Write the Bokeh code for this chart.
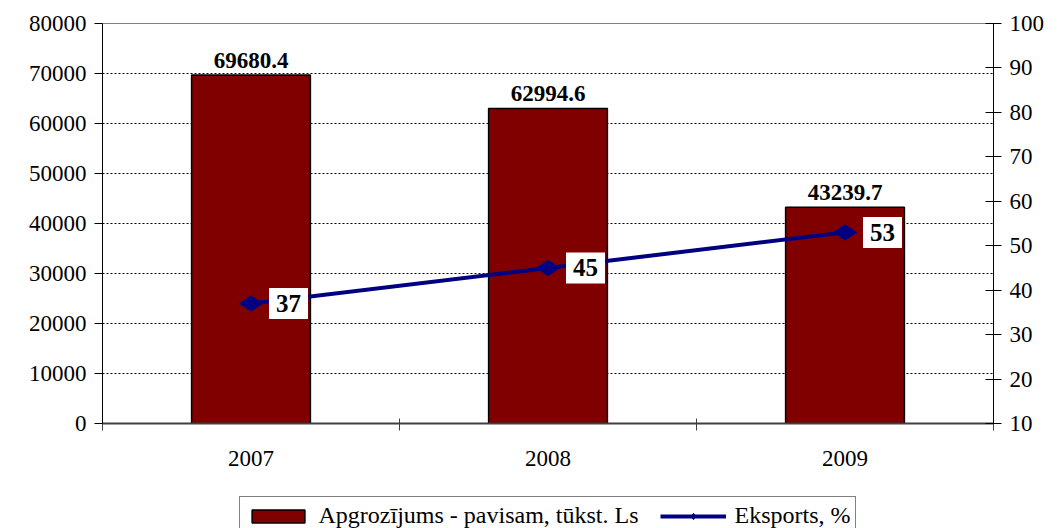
from math import pi
from bokeh.plotting import figure
from bokeh.layouts import column
from bokeh.models import (Range1d, LinearAxis, FixedTicker, Legend, LegendItem, Label,
                          ColumnDataSource)
from bokeh.core.properties import value
from bokeh.embed import file_html
from bokeh.resources import INLINE

years = ["2007", "2008", "2009"]
turnover = [69680.4, 62994.6, 43239.7]
export_pct = [37, 45, 53]
left_ticks = [0, 10000, 20000, 30000, 40000, 50000, 60000, 70000, 80000]
right_ticks = [10, 20, 30, 40, 50, 60, 70, 80, 90, 100]
bar_name = "Apgrozījums - pavisam, tūkst. Ls"
line_name = "Eksports, %"

FONT = "Liberation Serif"
BAR_COLOR = "#800000"
LINE_COLOR = "#000080"
xs = [i + 0.5 for i in range(len(years))]

p = figure(frame_width=891, frame_height=400, output_backend="svg", toolbar_location=None,
           x_range=Range1d(0, len(years)), y_range=Range1d(0, 80000),
           min_border_left=102, min_border_right=66, min_border_top=23, min_border_bottom=70)
p.extra_y_ranges = {"right": Range1d(10, 100)}
p.outline_line_color = "#808080"
p.background_fill_color = "white"
p.border_fill_color = "white"

src = ColumnDataSource(dict(x=xs, top=turnover, lbl=[f"{v:.1f}" for v in turnover],
                            y2=export_pct))

p.vbar(x="x", top="top", width=0.4, source=src, fill_color=BAR_COLOR,
       line_color="black", line_width=1.5)
p.text(x="x", y="top", text="lbl", source=src, text_font=value(FONT), text_font_style="bold",
       text_font_size="23px", text_align="center", text_baseline="alphabetic", y_offset=-15,
       text_color="black")

p.line(x="x", y="y2", source=src, y_range_name="right", line_color=LINE_COLOR, line_width=4)
p.scatter(x="x", y="y2", source=src, y_range_name="right", marker="diamond", size=23,
          angle=pi / 2, fill_color=LINE_COLOR, line_color=LINE_COLOR)

for xv, yv, t in zip(xs, export_pct, [str(v) for v in export_pct]):
    p.add_layout(Label(x=xv, y=yv, y_range_name="right", text=t, x_offset=18,
                       text_align="left", text_baseline="middle", text_font=FONT,
                       text_font_style="bold", text_font_size="25px", text_color="black",
                       background_fill_color="white", padding=7))

# axes
p.xaxis.ticker = FixedTicker(ticks=xs, minor_ticks=list(range(len(years) + 1)))
p.xaxis.major_label_overrides = {x: y for x, y in zip(xs, years)}
p.xaxis.major_tick_out = 0
p.xaxis.major_tick_in = 0
p.xaxis.minor_tick_out = 7
p.xaxis.minor_tick_in = 5
p.xaxis.minor_tick_line_color = "#404040"
p.xaxis.axis_line_color = "#404040"
p.xaxis.axis_line_width = 2
p.xaxis.major_label_standoff = 20

p.yaxis.ticker = FixedTicker(ticks=left_ticks)
p.yaxis.major_tick_out = 8
p.yaxis.major_tick_in = 0
p.yaxis.minor_tick_line_color = None
p.yaxis.axis_line_color = "black"
p.yaxis.major_label_standoff = 8

raxis = LinearAxis(y_range_name="right", ticker=FixedTicker(ticks=right_ticks))
raxis.major_tick_out = 8
raxis.major_tick_in = 8
raxis.minor_tick_line_color = None
raxis.axis_line_color = "black"
raxis.major_label_standoff = 8
p.add_layout(raxis, "right")

for ax in [p.xaxis[0], p.yaxis[0], raxis]:
    ax.major_label_text_font = FONT
    ax.major_label_text_font_size = "23px"
    ax.major_label_text_color = "black"
    ax.major_tick_line_color = "black"

p.xgrid.grid_line_color = None
p.ygrid.ticker = FixedTicker(ticks=left_ticks[1:-1])
p.ygrid.grid_line_color = "black"
p.ygrid.grid_line_dash = "2 2"
p.ygrid.grid_line_width = 1

# legend strip (separate small figure under the chart); its sample glyphs have no drawable coords
nan = float("nan")
lg = figure(width=1059, height=40, output_backend="svg", toolbar_location=None,
            x_range=Range1d(0, 1), y_range=Range1d(0, 1), x_axis_type=None, y_axis_type=None,
            min_border_left=30, min_border_right=0, min_border_top=0, min_border_bottom=0)
lg.outline_line_color = None
lg.grid.grid_line_color = None
dummy = ColumnDataSource(dict(x=[nan], top=[nan], y=[nan]))
r_bar = lg.vbar(x="x", top="top", width=0.4, source=dummy, fill_color=BAR_COLOR,
                line_color="black", line_width=1.5)
r_line = lg.line(x="x", y="y", source=dummy, line_color=LINE_COLOR, line_width=4)
r_pts = lg.scatter(x="x", y="y", source=dummy, marker="diamond", size=20, angle=pi / 2,
                   fill_color=LINE_COLOR, line_color=LINE_COLOR)
legend = Legend(items=[LegendItem(label=bar_name, renderers=[r_bar], index=0),
                       LegendItem(label=line_name, renderers=[r_line, r_pts], index=0)],
                orientation="horizontal", location="top_center",
                label_text_font=FONT, label_text_font_size="24px", label_text_color="black",
                border_line_color="black", border_line_width=1, background_fill_color="white",
                padding=5, spacing=22, glyph_width=66, glyph_height=16, label_standoff=8,
                margin=3, label_height=22)
lg.add_layout(legend, "center")

layout = column(p, lg, spacing=0)
open("out.html", "w").write(file_html(layout, INLINE))
